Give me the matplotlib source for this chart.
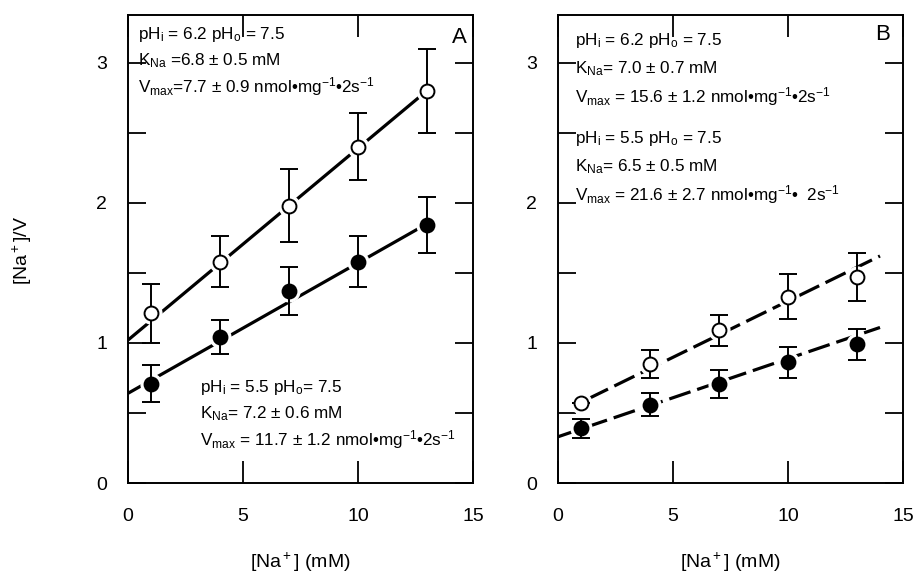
import matplotlib
matplotlib.use("Agg")
import matplotlib.pyplot as plt
from matplotlib.ticker import MultipleLocator

plt.rcParams["font.family"] = ["Liberation Sans", "DejaVu Sans"]
plt.rcParams["mathtext.fontset"] = "custom"
plt.rcParams["mathtext.rm"] = "Liberation Sans"
plt.rcParams["mathtext.it"] = "Liberation Sans:italic"
plt.rcParams["mathtext.default"] = "rm"

# concentrations (mM)
na = [1, 4, 7, 10, 13]

# panel A
a_open = [1.21, 1.58, 1.98, 2.40, 2.80]
a_open_err = [0.21, 0.18, 0.26, 0.24, 0.30]
a_fill = [0.71, 1.04, 1.37, 1.58, 1.84]
a_fill_err = [0.13, 0.12, 0.17, 0.18, 0.20]
a_open_fit = ([0.0, 13.0], [1.02, 2.80])
a_fill_fit = ([0.0, 13.0], [0.64, 1.85])

# panel B
b_open = [0.57, 0.85, 1.09, 1.33, 1.47]
b_open_err = [0.0, 0.10, 0.11, 0.16, 0.17]
b_fill = [0.39, 0.56, 0.71, 0.86, 0.99]
b_fill_err = [0.07, 0.08, 0.10, 0.11, 0.11]
b_open_fit = ([1.3, 14.0], [0.60, 1.62])
b_fill_fit = ([0.0, 14.0], [0.33, 1.11])

x_ticks = [0, 5, 10, 15]
y_ticks = [0, 1, 2, 3]

FS = 14
TXT = 12.3


def draw_series(ax, y, err, fit, open_marker, dashed):
    ls = dict(color="black", lw=2.3, solid_capstyle="butt", zorder=1)
    if dashed:
        ax.plot(*fit, dashes=(7, 2.2), **ls)
    else:
        ax.plot(*fit, **ls)
    # white halo so the fit line stops short of each symbol
    ax.plot(na, y, "o", ms=15, color="white", zorder=2)
    ax.errorbar(na, y, yerr=err, fmt="none", ecolor="black", elinewidth=1.4,
                capsize=6.5, capthick=1.4, zorder=3)
    face = "white" if open_marker else "black"
    ax.plot(na, y, "o", ms=10, mfc=face, mec="black", mew=1.4, zorder=4)


def style_axes(ax):
    ax.set_xlim(0, 15)
    ax.set_ylim(0, 3.34)
    ax.set_xticks(x_ticks)
    ax.set_yticks(y_ticks)
    ax.yaxis.set_minor_locator(MultipleLocator(0.5))
    ax.tick_params(which="both", direction="in", top=True, right=True,
                   width=1.3, labelsize=FS)
    ax.tick_params(axis="x", which="major", length=16, pad=18)
    ax.tick_params(axis="y", which="both", length=13, pad=15)
    for s in ax.spines.values():
        s.set_linewidth(1.4)


fig = plt.figure(figsize=(9.15, 5.78), dpi=100)
W, H = 915, 578
axA = fig.add_axes([128 / W, 1 - 483 / H, 345 / W, 468 / H])
axB = fig.add_axes([558 / W, 1 - 483 / H, 345 / W, 468 / H])

draw_series(axA, a_open, a_open_err, a_open_fit, True, False)
draw_series(axA, a_fill, a_fill_err, a_fill_fit, False, False)
draw_series(axB, b_open, b_open_err, b_open_fit, True, True)
draw_series(axB, b_fill, b_fill_err, b_fill_fit, False, True)
style_axes(axA)
style_axes(axB)


def block(ax, x, y0, lines, step=0.185):
    for i, t in enumerate(lines):
        ax.text(x, y0 - i * step, t, fontsize=TXT, ha="left", va="center")


block(axA, 0.45, 3.2, [r"pH$_\mathrm{i}$ = 6.2 pH$_\mathrm{o}$ = 7.5",
                       r"K$_\mathrm{Na}$ =6.8 ± 0.5 mM",
                       r"V$_\mathrm{max}$=7.7 ± 0.9 nmol•mg$^{-1}$•2s$^{-1}$"])
block(axA, 3.15, 0.68, [r"pH$_\mathrm{i}$ = 5.5 pH$_\mathrm{o}$= 7.5",
                        r"K$_\mathrm{Na}$= 7.2 ± 0.6 mM",
                        r"V$_\mathrm{max}$ = 11.7 ± 1.2 nmol•mg$^{-1}$•2s$^{-1}$"])
block(axB, 0.75, 3.16, [r"pH$_\mathrm{i}$ = 6.2 pH$_\mathrm{o}$ = 7.5",
                        r"K$_\mathrm{Na}$= 7.0 ± 0.7 mM",
                        r"V$_\mathrm{max}$ = 15.6 ± 1.2 nmol•mg$^{-1}$•2s$^{-1}$"], step=0.2)
block(axB, 0.75, 2.46, [r"pH$_\mathrm{i}$ = 5.5 pH$_\mathrm{o}$ = 7.5",
                        r"K$_\mathrm{Na}$= 6.5 ± 0.5 mM",
                        r"V$_\mathrm{max}$ = 21.6 ± 2.7 nmol•mg$^{-1}$•  2s$^{-1}$"], step=0.2)

axA.text(14.4, 3.18, "A", fontsize=16, ha="center", va="center")
axB.text(14.1, 3.2, "B", fontsize=16, ha="center", va="center")

fig.text(300 / W, 1 - 562 / H, r"[Na$^+$] (mM)", fontsize=FS, ha="center", va="center")
fig.text(730 / W, 1 - 562 / H, r"[Na$^+$] (mM)", fontsize=FS, ha="center", va="center")
fig.text(22 / W, 1 - 250 / H, r"[Na$^+$]/V", fontsize=FS, ha="center", va="center",
         rotation=90)

fig.savefig("out.png", dpi=100)
